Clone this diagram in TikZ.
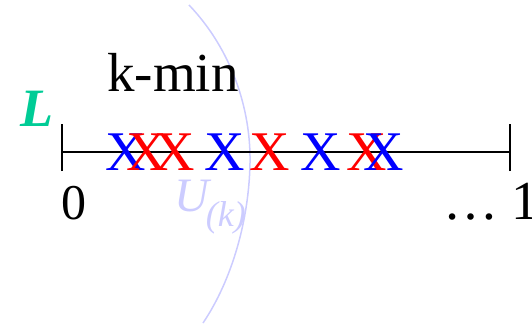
\documentclass[tikz,border=0pt]{standalone}
\usepackage{fontspec}
\setmainfont{Liberation Serif}
\definecolor{lteal}{RGB}{0,204,150}
\definecolor{lav}{RGB}{204,204,255}
\begin{document}
\begin{tikzpicture}[x=1pt,y=-1pt,
  xmark/.style={anchor=base,inner sep=0pt,font=\fontsize{56}{60}\selectfont},
  bx/.style={xmark,text=blue},
  rx/.style={xmark,text=red},
  lbl/.style={inner sep=0pt,font=\fontsize{50}{56}\selectfont},
  tk/.style={line width=2pt}]
\useasboundingbox (0,0) rectangle (532,327);
% ellipse arc
\coordinate (et) at (189,5);
\coordinate (em) at (250,163);
\coordinate (eb) at (203,323);
\draw[lav,line width=1.5pt] (et) .. controls (232,50) and (251,110) .. (em) .. controls (249,220) and (232,280) .. (eb);
% axis
\coordinate (a0) at (62,152);
\coordinate (a1) at (510,152);
\draw[line width=1.8pt] (a0) -- (a1);
\draw[tk] ([yshift=-19pt]a0) -- ([yshift=28pt]a0);
\draw[tk] ([yshift=-19pt]a1) -- ([yshift=28pt]a1);
% marks
\node[bx] (x1) at (126,170) {X};
\node[rx] (x2) at (147,170) {X};
\node[rx] (x3) at (175,170) {X};
\node[bx] (x4) at (225,170) {X};
\node[rx] (x5) at (270,170) {X};
\node[bx] (x6) at (321,170) {X};
\node[rx] (x7) at (367,170) {X};
\node[bx] (x8) at (384,170) {X};
% labels
\node[lbl,anchor=base west,font=\fontsize{55}{60}\selectfont] (km) at (107,91) {k-min};
\node[lbl,anchor=base] (z) at (74,219) {0};
\node[lbl,anchor=base west,font=\fontsize{55}{60}\selectfont] (one) at (443,219) {\ldots\ 1};
\node[inner sep=0pt,anchor=base west,text=lteal,font=\fontsize{54}{58}\selectfont\bfseries\itshape] (L) at (20,126) {L};
\node[inner sep=0pt,anchor=base west,text=lav,font=\fontsize{48}{52}\selectfont\itshape] (U) at (174,211) {U\kern-3pt\raisebox{-15pt}{\fontsize{36}{40}\selectfont(k)}};
\end{tikzpicture}
\end{document}
